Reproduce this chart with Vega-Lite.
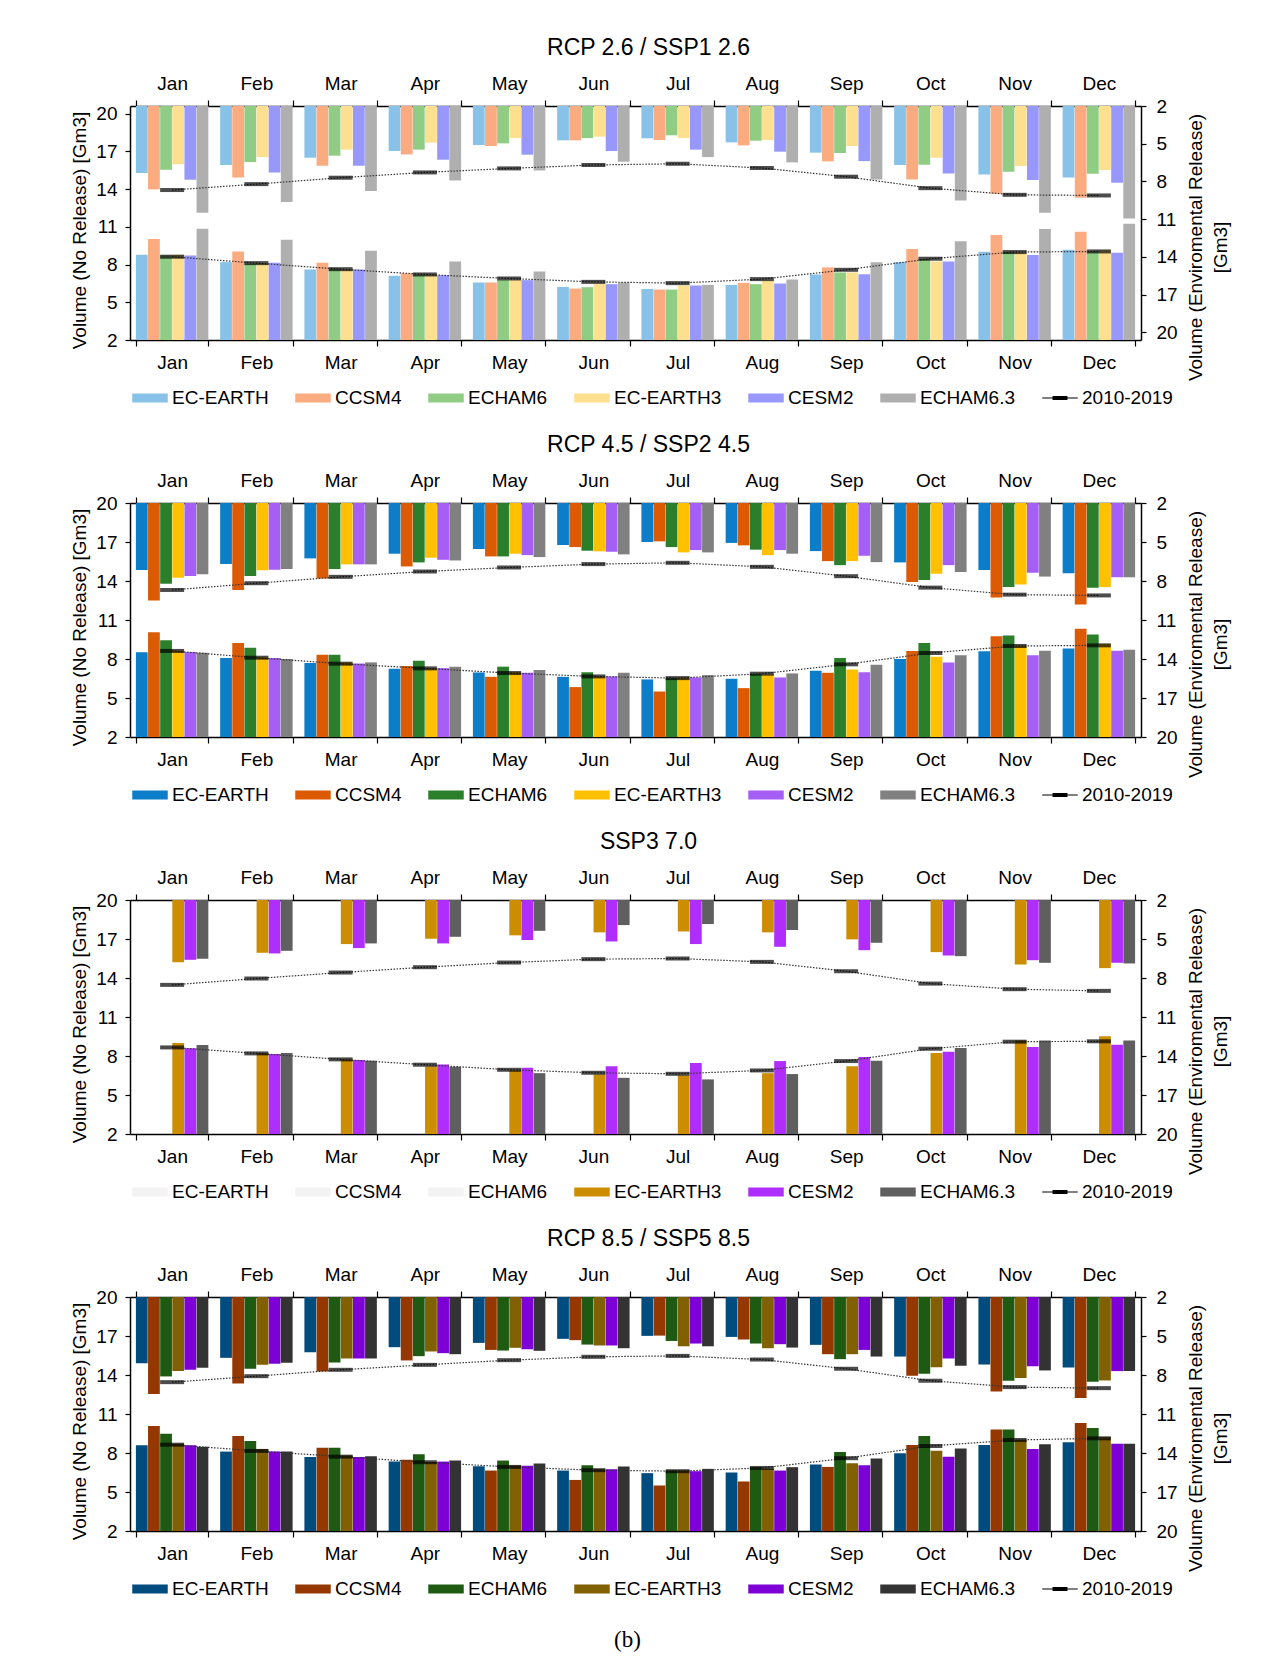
{
  "$schema": "https://vega.github.io/schema/vega-lite/v6.json",
  "padding": {"left": 70, "top": 37, "right": 30, "bottom": 5},
  "spacing": 26,
  "title": {"text": "(b)", "orient": "bottom", "anchor": "middle", "dx": -8, "font": "Liberation Serif", "fontSize": 23, "fontWeight": "normal", "color": "black", "offset": 30},
  "datasets": {
    "bars": [
      {"p":1,"m":"Jan","s":"EC-EARTH","nr":8.78,"er":7.33},{"p":1,"m":"Jan","s":"CCSM4","nr":10.03,"er":8.63},{"p":1,"m":"Jan","s":"ECHAM6","nr":8.72,"er":7.07},{"p":1,"m":"Jan","s":"EC-EARTH3","nr":8.78,"er":6.64},{"p":1,"m":"Jan","s":"CESM2","nr":8.72,"er":7.86},{"p":1,"m":"Jan","s":"ECHAM6.3","nr":10.85,"er":10.49},
      {"p":1,"m":"Feb","s":"EC-EARTH","nr":8.19,"er":6.69},{"p":1,"m":"Feb","s":"CCSM4","nr":9.04,"er":7.68},{"p":1,"m":"Feb","s":"ECHAM6","nr":8.09,"er":6.46},{"p":1,"m":"Feb","s":"EC-EARTH3","nr":8.11,"er":6.06},{"p":1,"m":"Feb","s":"CESM2","nr":8.14,"er":7.28},{"p":1,"m":"Feb","s":"ECHAM6.3","nr":9.97,"er":9.64},
      {"p":1,"m":"Mar","s":"EC-EARTH","nr":7.61,"er":6.11},{"p":1,"m":"Mar","s":"CCSM4","nr":8.14,"er":6.75},{"p":1,"m":"Mar","s":"ECHAM6","nr":7.66,"er":5.95},{"p":1,"m":"Mar","s":"EC-EARTH3","nr":7.63,"er":5.47},{"p":1,"m":"Mar","s":"CESM2","nr":7.61,"er":6.75},{"p":1,"m":"Mar","s":"ECHAM6.3","nr":9.10,"er":8.76},
      {"p":1,"m":"Apr","s":"EC-EARTH","nr":7.10,"er":5.58},{"p":1,"m":"Apr","s":"CCSM4","nr":7.31,"er":5.85},{"p":1,"m":"Apr","s":"ECHAM6","nr":7.18,"er":5.47},{"p":1,"m":"Apr","s":"EC-EARTH3","nr":7.21,"er":4.92},{"p":1,"m":"Apr","s":"CESM2","nr":7.15,"er":6.27},{"p":1,"m":"Apr","s":"ECHAM6.3","nr":8.24,"er":7.92},
      {"p":1,"m":"May","s":"EC-EARTH","nr":6.57,"er":5.10},{"p":1,"m":"May","s":"CCSM4","nr":6.57,"er":5.18},{"p":1,"m":"May","s":"ECHAM6","nr":6.76,"er":4.97},{"p":1,"m":"May","s":"EC-EARTH3","nr":6.76,"er":4.55},{"p":1,"m":"May","s":"CESM2","nr":6.76,"er":5.87},{"p":1,"m":"May","s":"ECHAM6.3","nr":7.45,"er":7.12},
      {"p":1,"m":"Jun","s":"EC-EARTH","nr":6.22,"er":4.73},{"p":1,"m":"Jun","s":"CCSM4","nr":6.09,"er":4.73},{"p":1,"m":"Jun","s":"ECHAM6","nr":6.20,"er":4.55},{"p":1,"m":"Jun","s":"EC-EARTH3","nr":6.49,"er":4.44},{"p":1,"m":"Jun","s":"CESM2","nr":6.44,"er":5.58},{"p":1,"m":"Jun","s":"ECHAM6.3","nr":6.57,"er":6.43},
      {"p":1,"m":"Jul","s":"EC-EARTH","nr":6.06,"er":4.57},{"p":1,"m":"Jul","s":"CCSM4","nr":6.01,"er":4.70},{"p":1,"m":"Jul","s":"ECHAM6","nr":6.01,"er":4.33},{"p":1,"m":"Jul","s":"EC-EARTH3","nr":6.33,"er":4.55},{"p":1,"m":"Jul","s":"CESM2","nr":6.33,"er":5.47},{"p":1,"m":"Jul","s":"ECHAM6.3","nr":6.38,"er":6.06},
      {"p":1,"m":"Aug","s":"EC-EARTH","nr":6.38,"er":4.89},{"p":1,"m":"Aug","s":"CCSM4","nr":6.54,"er":5.13},{"p":1,"m":"Aug","s":"ECHAM6","nr":6.44,"er":4.76},{"p":1,"m":"Aug","s":"EC-EARTH3","nr":6.70,"er":4.71},{"p":1,"m":"Aug","s":"CESM2","nr":6.49,"er":5.63},{"p":1,"m":"Aug","s":"ECHAM6.3","nr":6.81,"er":6.48},
      {"p":1,"m":"Sep","s":"EC-EARTH","nr":7.21,"er":5.71},{"p":1,"m":"Sep","s":"CCSM4","nr":7.77,"er":6.40},{"p":1,"m":"Sep","s":"ECHAM6","nr":7.37,"er":5.74},{"p":1,"m":"Sep","s":"EC-EARTH3","nr":7.37,"er":5.18},{"p":1,"m":"Sep","s":"CESM2","nr":7.23,"er":6.38},{"p":1,"m":"Sep","s":"ECHAM6.3","nr":8.19,"er":7.84},
      {"p":1,"m":"Oct","s":"EC-EARTH","nr":8.19,"er":6.69},{"p":1,"m":"Oct","s":"CCSM4","nr":9.23,"er":7.84},{"p":1,"m":"Oct","s":"ECHAM6","nr":8.43,"er":6.67},{"p":1,"m":"Oct","s":"EC-EARTH3","nr":8.24,"er":6.11},{"p":1,"m":"Oct","s":"CESM2","nr":8.24,"er":7.36},{"p":1,"m":"Oct","s":"ECHAM6.3","nr":9.84,"er":9.51},
      {"p":1,"m":"Nov","s":"EC-EARTH","nr":9.02,"er":7.44},{"p":1,"m":"Nov","s":"CCSM4","nr":10.35,"er":8.98},{"p":1,"m":"Nov","s":"ECHAM6","nr":9.02,"er":7.23},{"p":1,"m":"Nov","s":"EC-EARTH3","nr":8.96,"er":6.77},{"p":1,"m":"Nov","s":"CESM2","nr":8.75,"er":7.89},{"p":1,"m":"Nov","s":"ECHAM6.3","nr":10.82,"er":10.49},
      {"p":1,"m":"Dec","s":"EC-EARTH","nr":9.18,"er":7.68},{"p":1,"m":"Dec","s":"CCSM4","nr":10.61,"er":9.29},{"p":1,"m":"Dec","s":"ECHAM6","nr":9.04,"er":7.38},{"p":1,"m":"Dec","s":"EC-EARTH3","nr":9.15,"er":7.09},{"p":1,"m":"Dec","s":"CESM2","nr":8.94,"er":8.10},{"p":1,"m":"Dec","s":"ECHAM6.3","nr":11.25,"er":10.94},

      {"p":2,"m":"Jan","s":"EC-EARTH","nr":8.51,"er":7.15},{"p":2,"m":"Jan","s":"CCSM4","nr":10.06,"er":9.50},{"p":2,"m":"Jan","s":"ECHAM6","nr":9.44,"er":8.21},{"p":2,"m":"Jan","s":"EC-EARTH3","nr":8.64,"er":7.75},{"p":2,"m":"Jan","s":"CESM2","nr":8.54,"er":7.62},{"p":2,"m":"Jan","s":"ECHAM6.3","nr":8.49,"er":7.49},
      {"p":2,"m":"Feb","s":"EC-EARTH","nr":8.08,"er":6.69},{"p":2,"m":"Feb","s":"CCSM4","nr":9.24,"er":8.69},{"p":2,"m":"Feb","s":"ECHAM6","nr":8.87,"er":7.62},{"p":2,"m":"Feb","s":"EC-EARTH3","nr":8.13,"er":7.18},{"p":2,"m":"Feb","s":"CESM2","nr":8.08,"er":7.13},{"p":2,"m":"Feb","s":"ECHAM6.3","nr":8.00,"er":7.08},
      {"p":2,"m":"Mar","s":"EC-EARTH","nr":7.69,"er":6.26},{"p":2,"m":"Mar","s":"CCSM4","nr":8.33,"er":7.81},{"p":2,"m":"Mar","s":"ECHAM6","nr":8.33,"er":7.08},{"p":2,"m":"Mar","s":"EC-EARTH3","nr":7.74,"er":6.72},{"p":2,"m":"Mar","s":"CESM2","nr":7.66,"er":6.72},{"p":2,"m":"Mar","s":"ECHAM6.3","nr":7.74,"er":6.72},
      {"p":2,"m":"Apr","s":"EC-EARTH","nr":7.25,"er":5.90},{"p":2,"m":"Apr","s":"CCSM4","nr":7.46,"er":6.88},{"p":2,"m":"Apr","s":"ECHAM6","nr":7.87,"er":6.57},{"p":2,"m":"Apr","s":"EC-EARTH3","nr":7.30,"er":6.21},{"p":2,"m":"Apr","s":"CESM2","nr":7.30,"er":6.37},{"p":2,"m":"Apr","s":"ECHAM6.3","nr":7.41,"er":6.42},
      {"p":2,"m":"May","s":"EC-EARTH","nr":6.97,"er":5.54},{"p":2,"m":"May","s":"CCSM4","nr":6.63,"er":6.11},{"p":2,"m":"May","s":"ECHAM6","nr":7.41,"er":6.11},{"p":2,"m":"May","s":"EC-EARTH3","nr":6.99,"er":5.90},{"p":2,"m":"May","s":"CESM2","nr":6.94,"er":6.01},{"p":2,"m":"May","s":"ECHAM6.3","nr":7.15,"er":6.16},
      {"p":2,"m":"Jun","s":"EC-EARTH","nr":6.63,"er":5.23},{"p":2,"m":"Jun","s":"CCSM4","nr":5.84,"er":5.39},{"p":2,"m":"Jun","s":"ECHAM6","nr":6.99,"er":5.67},{"p":2,"m":"Jun","s":"EC-EARTH3","nr":6.66,"er":5.72},{"p":2,"m":"Jun","s":"CESM2","nr":6.66,"er":5.75},{"p":2,"m":"Jun","s":"ECHAM6.3","nr":6.94,"er":5.95},
      {"p":2,"m":"Jul","s":"EC-EARTH","nr":6.43,"er":5.00},{"p":2,"m":"Jul","s":"CCSM4","nr":5.50,"er":4.95},{"p":2,"m":"Jul","s":"ECHAM6","nr":6.53,"er":5.39},{"p":2,"m":"Jul","s":"EC-EARTH3","nr":6.53,"er":5.80},{"p":2,"m":"Jul","s":"CESM2","nr":6.58,"er":5.62},{"p":2,"m":"Jul","s":"ECHAM6.3","nr":6.76,"er":5.80},
      {"p":2,"m":"Aug","s":"EC-EARTH","nr":6.48,"er":5.07},{"p":2,"m":"Aug","s":"CCSM4","nr":5.76,"er":5.26},{"p":2,"m":"Aug","s":"ECHAM6","nr":6.84,"er":5.59},{"p":2,"m":"Aug","s":"EC-EARTH3","nr":6.79,"er":6.01},{"p":2,"m":"Aug","s":"CESM2","nr":6.58,"er":5.62},{"p":2,"m":"Aug","s":"ECHAM6.3","nr":6.89,"er":5.90},
      {"p":2,"m":"Sep","s":"EC-EARTH","nr":7.10,"er":5.70},{"p":2,"m":"Sep","s":"CCSM4","nr":6.94,"er":6.47},{"p":2,"m":"Sep","s":"ECHAM6","nr":8.08,"er":6.78},{"p":2,"m":"Sep","s":"EC-EARTH3","nr":7.20,"er":6.47},{"p":2,"m":"Sep","s":"CESM2","nr":6.99,"er":6.06},{"p":2,"m":"Sep","s":"ECHAM6.3","nr":7.56,"er":6.55},
      {"p":2,"m":"Oct","s":"EC-EARTH","nr":8.00,"er":6.57},{"p":2,"m":"Oct","s":"CCSM4","nr":8.62,"er":8.07},{"p":2,"m":"Oct","s":"ECHAM6","nr":9.24,"er":7.92},{"p":2,"m":"Oct","s":"EC-EARTH3","nr":8.18,"er":7.45},{"p":2,"m":"Oct","s":"CESM2","nr":7.74,"er":6.78},{"p":2,"m":"Oct","s":"ECHAM6.3","nr":8.28,"er":7.30},
      {"p":2,"m":"Nov","s":"EC-EARTH","nr":8.59,"er":7.15},{"p":2,"m":"Nov","s":"CCSM4","nr":9.75,"er":9.27},{"p":2,"m":"Nov","s":"ECHAM6","nr":9.80,"er":8.47},{"p":2,"m":"Nov","s":"EC-EARTH3","nr":9.00,"er":8.26},{"p":2,"m":"Nov","s":"CESM2","nr":8.28,"er":7.37},{"p":2,"m":"Nov","s":"ECHAM6.3","nr":8.64,"er":7.66},
      {"p":2,"m":"Dec","s":"EC-EARTH","nr":8.80,"er":7.41},{"p":2,"m":"Dec","s":"CCSM4","nr":10.32,"er":9.81},{"p":2,"m":"Dec","s":"ECHAM6","nr":9.88,"er":8.52},{"p":2,"m":"Dec","s":"EC-EARTH3","nr":9.16,"er":8.47},{"p":2,"m":"Dec","s":"CESM2","nr":8.64,"er":7.71},{"p":2,"m":"Dec","s":"ECHAM6.3","nr":8.72,"er":7.71},

      {"p":3,"m":"Jan","s":"EC-EARTH3","nr":9.00,"er":6.78},{"p":3,"m":"Jan","s":"CESM2","nr":8.59,"er":6.60},{"p":3,"m":"Jan","s":"ECHAM6.3","nr":8.84,"er":6.52},
      {"p":3,"m":"Feb","s":"EC-EARTH3","nr":8.23,"er":6.06},{"p":3,"m":"Feb","s":"CESM2","nr":8.15,"er":6.11},{"p":3,"m":"Feb","s":"ECHAM6.3","nr":8.23,"er":5.91},
      {"p":3,"m":"Mar","s":"EC-EARTH3","nr":7.74,"er":5.39},{"p":3,"m":"Mar","s":"CESM2","nr":7.69,"er":5.70},{"p":3,"m":"Mar","s":"ECHAM6.3","nr":7.64,"er":5.34},
      {"p":3,"m":"Apr","s":"EC-EARTH3","nr":7.20,"er":4.98},{"p":3,"m":"Apr","s":"CESM2","nr":7.35,"er":5.34},{"p":3,"m":"Apr","s":"ECHAM6.3","nr":7.17,"er":4.83},
      {"p":3,"m":"May","s":"EC-EARTH3","nr":6.89,"er":4.72},{"p":3,"m":"May","s":"CESM2","nr":7.10,"er":5.08},{"p":3,"m":"May","s":"ECHAM6.3","nr":6.68,"er":4.37},
      {"p":3,"m":"Jun","s":"EC-EARTH3","nr":6.58,"er":4.49},{"p":3,"m":"Jun","s":"CESM2","nr":7.22,"er":5.19},{"p":3,"m":"Jun","s":"ECHAM6.3","nr":6.32,"er":3.93},
      {"p":3,"m":"Jul","s":"EC-EARTH3","nr":6.50,"er":4.42},{"p":3,"m":"Jul","s":"CESM2","nr":7.46,"er":5.39},{"p":3,"m":"Jul","s":"ECHAM6.3","nr":6.20,"er":3.85},
      {"p":3,"m":"Aug","s":"EC-EARTH3","nr":6.68,"er":4.49},{"p":3,"m":"Aug","s":"CESM2","nr":7.61,"er":5.60},{"p":3,"m":"Aug","s":"ECHAM6.3","nr":6.61,"er":4.31},
      {"p":3,"m":"Sep","s":"EC-EARTH3","nr":7.22,"er":5.03},{"p":3,"m":"Sep","s":"CESM2","nr":7.92,"er":5.86},{"p":3,"m":"Sep","s":"ECHAM6.3","nr":7.64,"er":5.29},
      {"p":3,"m":"Oct","s":"EC-EARTH3","nr":8.23,"er":6.01},{"p":3,"m":"Oct","s":"CESM2","nr":8.33,"er":6.27},{"p":3,"m":"Oct","s":"ECHAM6.3","nr":8.61,"er":6.32},
      {"p":3,"m":"Nov","s":"EC-EARTH3","nr":9.20,"er":6.96},{"p":3,"m":"Nov","s":"CESM2","nr":8.69,"er":6.63},{"p":3,"m":"Nov","s":"ECHAM6.3","nr":9.20,"er":6.83},
      {"p":3,"m":"Dec","s":"EC-EARTH3","nr":9.51,"er":7.24},{"p":3,"m":"Dec","s":"CESM2","nr":8.87,"er":6.83},{"p":3,"m":"Dec","s":"ECHAM6.3","nr":9.20,"er":6.88},

      {"p":4,"m":"Jan","s":"EC-EARTH","nr":8.59,"er":7.09},{"p":4,"m":"Jan","s":"CCSM4","nr":10.08,"er":9.47},{"p":4,"m":"Jan","s":"ECHAM6","nr":9.49,"er":8.11},{"p":4,"m":"Jan","s":"EC-EARTH3","nr":8.72,"er":7.70},{"p":4,"m":"Jan","s":"CESM2","nr":8.59,"er":7.60},{"p":4,"m":"Jan","s":"ECHAM6.3","nr":8.49,"er":7.45},
      {"p":4,"m":"Feb","s":"EC-EARTH","nr":8.11,"er":6.68},{"p":4,"m":"Feb","s":"CCSM4","nr":9.31,"er":8.65},{"p":4,"m":"Feb","s":"ECHAM6","nr":8.93,"er":7.52},{"p":4,"m":"Feb","s":"EC-EARTH3","nr":8.31,"er":7.22},{"p":4,"m":"Feb","s":"CESM2","nr":8.11,"er":7.14},{"p":4,"m":"Feb","s":"ECHAM6.3","nr":8.11,"er":7.06},
      {"p":4,"m":"Mar","s":"EC-EARTH","nr":7.70,"er":6.25},{"p":4,"m":"Mar","s":"CCSM4","nr":8.41,"er":7.73},{"p":4,"m":"Mar","s":"ECHAM6","nr":8.41,"er":7.04},{"p":4,"m":"Mar","s":"EC-EARTH3","nr":7.80,"er":6.73},{"p":4,"m":"Mar","s":"CESM2","nr":7.70,"er":6.73},{"p":4,"m":"Mar","s":"ECHAM6.3","nr":7.75,"er":6.73},
      {"p":4,"m":"Apr","s":"EC-EARTH","nr":7.34,"er":5.86},{"p":4,"m":"Apr","s":"CCSM4","nr":7.49,"er":6.88},{"p":4,"m":"Apr","s":"ECHAM6","nr":7.90,"er":6.55},{"p":4,"m":"Apr","s":"EC-EARTH3","nr":7.31,"er":6.19},{"p":4,"m":"Apr","s":"CESM2","nr":7.34,"er":6.32},{"p":4,"m":"Apr","s":"ECHAM6.3","nr":7.42,"er":6.40},
      {"p":4,"m":"May","s":"EC-EARTH","nr":6.98,"er":5.53},{"p":4,"m":"May","s":"CCSM4","nr":6.65,"er":6.07},{"p":4,"m":"May","s":"ECHAM6","nr":7.42,"er":6.12},{"p":4,"m":"May","s":"EC-EARTH3","nr":7.03,"er":5.91},{"p":4,"m":"May","s":"CESM2","nr":7.01,"er":6.02},{"p":4,"m":"May","s":"ECHAM6.3","nr":7.19,"er":6.14},
      {"p":4,"m":"Jun","s":"EC-EARTH","nr":6.65,"er":5.22},{"p":4,"m":"Jun","s":"CCSM4","nr":5.93,"er":5.32},{"p":4,"m":"Jun","s":"ECHAM6","nr":7.06,"er":5.66},{"p":4,"m":"Jun","s":"EC-EARTH3","nr":6.75,"er":5.73},{"p":4,"m":"Jun","s":"CESM2","nr":6.75,"er":5.73},{"p":4,"m":"Jun","s":"ECHAM6.3","nr":6.96,"er":5.94},
      {"p":4,"m":"Jul","s":"EC-EARTH","nr":6.45,"er":4.99},{"p":4,"m":"Jul","s":"CCSM4","nr":5.50,"er":4.97},{"p":4,"m":"Jul","s":"ECHAM6","nr":6.65,"er":5.38},{"p":4,"m":"Jul","s":"EC-EARTH3","nr":6.65,"er":5.79},{"p":4,"m":"Jul","s":"CESM2","nr":6.60,"er":5.58},{"p":4,"m":"Jul","s":"ECHAM6.3","nr":6.78,"er":5.79},
      {"p":4,"m":"Aug","s":"EC-EARTH","nr":6.50,"er":5.07},{"p":4,"m":"Aug","s":"CCSM4","nr":5.81,"er":5.27},{"p":4,"m":"Aug","s":"ECHAM6","nr":6.91,"er":5.58},{"p":4,"m":"Aug","s":"EC-EARTH3","nr":6.80,"er":5.94},{"p":4,"m":"Aug","s":"CESM2","nr":6.65,"er":5.63},{"p":4,"m":"Aug","s":"ECHAM6.3","nr":6.91,"er":5.89},
      {"p":4,"m":"Sep","s":"EC-EARTH","nr":7.11,"er":5.68},{"p":4,"m":"Sep","s":"CCSM4","nr":6.93,"er":6.40},{"p":4,"m":"Sep","s":"ECHAM6","nr":8.08,"er":6.78},{"p":4,"m":"Sep","s":"EC-EARTH3","nr":7.21,"er":6.40},{"p":4,"m":"Sep","s":"CESM2","nr":7.06,"er":6.07},{"p":4,"m":"Sep","s":"ECHAM6.3","nr":7.57,"er":6.58},
      {"p":4,"m":"Oct","s":"EC-EARTH","nr":7.98,"er":6.58},{"p":4,"m":"Oct","s":"CCSM4","nr":8.62,"er":8.06},{"p":4,"m":"Oct","s":"ECHAM6","nr":9.31,"er":7.91},{"p":4,"m":"Oct","s":"EC-EARTH3","nr":8.18,"er":7.40},{"p":4,"m":"Oct","s":"CESM2","nr":7.72,"er":6.73},{"p":4,"m":"Oct","s":"ECHAM6.3","nr":8.34,"er":7.29},
      {"p":4,"m":"Nov","s":"EC-EARTH","nr":8.62,"er":7.19},{"p":4,"m":"Nov","s":"CCSM4","nr":9.80,"er":9.26},{"p":4,"m":"Nov","s":"ECHAM6","nr":9.80,"er":8.44},{"p":4,"m":"Nov","s":"EC-EARTH3","nr":9.00,"er":8.24},{"p":4,"m":"Nov","s":"CESM2","nr":8.31,"er":7.32},{"p":4,"m":"Nov","s":"ECHAM6.3","nr":8.67,"er":7.65},
      {"p":4,"m":"Dec","s":"EC-EARTH","nr":8.82,"er":7.42},{"p":4,"m":"Dec","s":"CCSM4","nr":10.31,"er":9.77},{"p":4,"m":"Dec","s":"ECHAM6","nr":9.92,"er":8.52},{"p":4,"m":"Dec","s":"EC-EARTH3","nr":9.21,"er":8.42},{"p":4,"m":"Dec","s":"CESM2","nr":8.72,"er":7.70},{"p":4,"m":"Dec","s":"ECHAM6.3","nr":8.72,"er":7.70}
    ],
    "lines": [
      {"p":1,"m":"Jan","nr":8.62,"er":8.68},{"p":1,"m":"Feb","nr":8.11,"er":8.21},{"p":1,"m":"Mar","nr":7.63,"er":7.70},{"p":1,"m":"Apr","nr":7.21,"er":7.28},{"p":1,"m":"May","nr":6.89,"er":6.96},{"p":1,"m":"Jun","nr":6.62,"er":6.69},{"p":1,"m":"Jul","nr":6.52,"er":6.59},{"p":1,"m":"Aug","nr":6.84,"er":6.93},{"p":1,"m":"Sep","nr":7.58,"er":7.62},{"p":1,"m":"Oct","nr":8.46,"er":8.53},{"p":1,"m":"Nov","nr":8.99,"er":9.06},{"p":1,"m":"Dec","nr":9.04,"er":9.11},
      {"p":2,"m":"Jan","nr":8.62,"er":8.69},{"p":2,"m":"Feb","nr":8.10,"er":8.17},{"p":2,"m":"Mar","nr":7.64,"er":7.68},{"p":2,"m":"Apr","nr":7.28,"er":7.27},{"p":2,"m":"May","nr":6.92,"er":6.96},{"p":2,"m":"Jun","nr":6.66,"er":6.70},{"p":2,"m":"Jul","nr":6.53,"er":6.60},{"p":2,"m":"Aug","nr":6.87,"er":6.91},{"p":2,"m":"Sep","nr":7.59,"er":7.63},{"p":2,"m":"Oct","nr":8.46,"er":8.51},{"p":2,"m":"Nov","nr":9.00,"er":9.05},{"p":2,"m":"Dec","nr":9.05,"er":9.11},
      {"p":3,"m":"Jan","nr":8.66,"er":8.53},{"p":3,"m":"Feb","nr":8.20,"er":8.04},{"p":3,"m":"Mar","nr":7.74,"er":7.58},{"p":3,"m":"Apr","nr":7.33,"er":7.17},{"p":3,"m":"May","nr":6.94,"er":6.81},{"p":3,"m":"Jun","nr":6.71,"er":6.55},{"p":3,"m":"Jul","nr":6.63,"er":6.50},{"p":3,"m":"Aug","nr":6.89,"er":6.76},{"p":3,"m":"Sep","nr":7.61,"er":7.48},{"p":3,"m":"Oct","nr":8.56,"er":8.43},{"p":3,"m":"Nov","nr":9.10,"er":8.86},{"p":3,"m":"Dec","nr":9.13,"er":8.99},
      {"p":4,"m":"Jan","nr":8.64,"er":8.55},{"p":4,"m":"Feb","nr":8.16,"er":8.09},{"p":4,"m":"Mar","nr":7.72,"er":7.60},{"p":4,"m":"Apr","nr":7.29,"er":7.22},{"p":4,"m":"May","nr":6.93,"er":6.86},{"p":4,"m":"Jun","nr":6.68,"er":6.60},{"p":4,"m":"Jul","nr":6.60,"er":6.53},{"p":4,"m":"Aug","nr":6.85,"er":6.81},{"p":4,"m":"Sep","nr":7.60,"er":7.52},{"p":4,"m":"Oct","nr":8.54,"er":8.44},{"p":4,"m":"Nov","nr":9.00,"er":8.93},{"p":4,"m":"Dec","nr":9.13,"er":9.01}
    ]
  },
  "resolve": {"scale": {"color": "independent", "x": "independent", "y": "independent", "xOffset": "independent"}},
  "vconcat": [
    {
      "width": 1011, "height": 234,
      "title": {"text": "RCP 2.6 / SSP1 2.6"},
      "resolve": {"scale": {"y": "independent"}, "axis": {"x": "independent", "y": "independent"}},
      "layer": [
        {"data": {"name": "bars"}, "transform": [{"filter": "datum.p == 1"}], "mark": "bar",
         "encoding": {
           "x": {"field": "m", "type": "nominal", "sort": null, "scale": {"domain": ["Jan","Feb","Mar","Apr","May","Jun","Jul","Aug","Sep","Oct","Nov","Dec"], "paddingInner": 0.14, "paddingOuter": 0.07}, "axis": {"orient": "bottom", "title": null, "labelAngle": 0, "tickBand": "extent", "tickSize": 6, "labelPadding": 7}},
           "xOffset": {"field": "s", "type": "nominal", "scale": {"domain": ["EC-EARTH","CCSM4","ECHAM6","EC-EARTH3","CESM2","ECHAM6.3"], "paddingInner": 0.03}},
           "y": {"field": "nr", "type": "quantitative", "scale": {"domain": [2, 20.6], "zero": false, "nice": false}, "axis": {"orient": "left", "values": [2,5,8,11,14,17,20], "title": "Volume (No Release) [Gm3]", "titlePadding": 6, "titleY": 124, "tickSize": 5, "labelPadding": 8}},
           "y2": {"datum": 2},
           "color": {"field": "s", "type": "nominal", "scale": {"domain": ["EC-EARTH","CCSM4","ECHAM6","EC-EARTH3","CESM2","ECHAM6.3","2010-2019"], "range": ["#88C2E8","#FBAB80","#90CC84","#FDE08F","#9898FC","#AFAFAF","#000000"]}, "legend": {"title": null, "encode": {"symbols": {"update": {"shape": {"signal": "datum.value === '2010-2019' ? 'M-1,-0.03H1V0.03H-1Z M-0.42,-0.11H0.42V0.11H-0.42Z' : 'M-1,-0.254H1V0.254H-1Z'"}}}}}}
         }},
        {"data": {"name": "bars"}, "transform": [{"filter": "datum.p == 1"}], "mark": "bar",
         "encoding": {
           "x": {"field": "m", "type": "nominal", "sort": null, "scale": {"domain": ["Jan","Feb","Mar","Apr","May","Jun","Jul","Aug","Sep","Oct","Nov","Dec"], "paddingInner": 0.14, "paddingOuter": 0.07}, "axis": {"orient": "top", "title": null, "labelAngle": 0, "tickBand": "extent", "tickSize": 6, "labelPadding": 7}},
           "xOffset": {"field": "s", "type": "nominal", "scale": {"domain": ["EC-EARTH","CCSM4","ECHAM6","EC-EARTH3","CESM2","ECHAM6.3"], "paddingInner": 0.03}},
           "y": {"field": "er", "type": "quantitative", "scale": {"domain": [2, 20.6], "reverse": true, "zero": false, "nice": false}, "axis": {"orient": "right", "values": [2,5,8,11,14,17,20], "title": ["Volume (Enviromental Release)", "[Gm3]"], "titleAngle": 270, "titleBaseline": "top", "titlePadding": -16, "titleLineHeight": 25, "titleY": 141, "tickSize": 5, "labelPadding": 10}},
           "y2": {"datum": 2},
           "color": {"field": "s", "type": "nominal"}
         }},
        {"data": {"name": "lines"}, "transform": [{"filter": "datum.p == 1"}], "mark": {"type": "line", "color": "#333333", "strokeWidth": 1.2, "strokeDash": [1.5, 1.5]},
         "encoding": {
           "x": {"field": "m", "type": "nominal", "sort": null, "axis": null},
           "y": {"field": "nr", "type": "quantitative", "scale": {"domain": [2, 20.6], "zero": false, "nice": false}, "axis": null}
         }},
        {"data": {"name": "lines"}, "transform": [{"filter": "datum.p == 1"}], "mark": {"type": "tick", "color": "black", "size": 24, "thickness": 4, "orient": "horizontal"},
         "encoding": {
           "x": {"field": "m", "type": "nominal", "sort": null, "axis": null},
           "y": {"field": "nr", "type": "quantitative", "scale": {"domain": [2, 20.6], "zero": false, "nice": false}, "axis": null}
         }},
        {"data": {"name": "lines"}, "transform": [{"filter": "datum.p == 1"}], "mark": {"type": "line", "color": "#333333", "strokeWidth": 1.2, "strokeDash": [1.5, 1.5]},
         "encoding": {
           "x": {"field": "m", "type": "nominal", "sort": null, "axis": null},
           "y": {"field": "er", "type": "quantitative", "scale": {"domain": [2, 20.6], "reverse": true, "zero": false, "nice": false}, "axis": null}
         }},
        {"data": {"name": "lines"}, "transform": [{"filter": "datum.p == 1"}], "mark": {"type": "tick", "color": "black", "size": 24, "thickness": 4, "orient": "horizontal"},
         "encoding": {
           "x": {"field": "m", "type": "nominal", "sort": null, "axis": null},
           "y": {"field": "er", "type": "quantitative", "scale": {"domain": [2, 20.6], "reverse": true, "zero": false, "nice": false}, "axis": null}
         }}
      ]
    },
    {
      "width": 1011, "height": 234,
      "title": {"text": "RCP 4.5 / SSP2 4.5"},
      "resolve": {"scale": {"y": "independent"}, "axis": {"x": "independent", "y": "independent"}},
      "layer": [
        {"data": {"name": "bars"}, "transform": [{"filter": "datum.p == 2"}], "mark": "bar",
         "encoding": {
           "x": {"field": "m", "type": "nominal", "sort": null, "scale": {"domain": ["Jan","Feb","Mar","Apr","May","Jun","Jul","Aug","Sep","Oct","Nov","Dec"], "paddingInner": 0.14, "paddingOuter": 0.07}, "axis": {"orient": "bottom", "title": null, "labelAngle": 0, "tickBand": "extent", "tickSize": 6, "labelPadding": 7}},
           "xOffset": {"field": "s", "type": "nominal", "scale": {"domain": ["EC-EARTH","CCSM4","ECHAM6","EC-EARTH3","CESM2","ECHAM6.3"], "paddingInner": 0.03}},
           "y": {"field": "nr", "type": "quantitative", "scale": {"domain": [2, 20], "zero": false, "nice": false}, "axis": {"orient": "left", "values": [2,5,8,11,14,17,20], "title": "Volume (No Release) [Gm3]", "titlePadding": 6, "titleY": 124, "tickSize": 5, "labelPadding": 8}},
           "y2": {"datum": 2},
           "color": {"field": "s", "type": "nominal", "scale": {"domain": ["EC-EARTH","CCSM4","ECHAM6","EC-EARTH3","CESM2","ECHAM6.3","2010-2019"], "range": ["#0B7DC9","#DD5A05","#2B7F2B","#FFC000","#A65FF5","#808080","#000000"]}, "legend": {"title": null, "encode": {"symbols": {"update": {"shape": {"signal": "datum.value === '2010-2019' ? 'M-1,-0.03H1V0.03H-1Z M-0.42,-0.11H0.42V0.11H-0.42Z' : 'M-1,-0.254H1V0.254H-1Z'"}}}}}}
         }},
        {"data": {"name": "bars"}, "transform": [{"filter": "datum.p == 2"}], "mark": "bar",
         "encoding": {
           "x": {"field": "m", "type": "nominal", "sort": null, "scale": {"domain": ["Jan","Feb","Mar","Apr","May","Jun","Jul","Aug","Sep","Oct","Nov","Dec"], "paddingInner": 0.14, "paddingOuter": 0.07}, "axis": {"orient": "top", "title": null, "labelAngle": 0, "tickBand": "extent", "tickSize": 6, "labelPadding": 7}},
           "xOffset": {"field": "s", "type": "nominal", "scale": {"domain": ["EC-EARTH","CCSM4","ECHAM6","EC-EARTH3","CESM2","ECHAM6.3"], "paddingInner": 0.03}},
           "y": {"field": "er", "type": "quantitative", "scale": {"domain": [2, 20], "reverse": true, "zero": false, "nice": false}, "axis": {"orient": "right", "values": [2,5,8,11,14,17,20], "title": ["Volume (Enviromental Release)", "[Gm3]"], "titleAngle": 270, "titleBaseline": "top", "titlePadding": -16, "titleLineHeight": 25, "titleY": 141, "tickSize": 5, "labelPadding": 10}},
           "y2": {"datum": 2},
           "color": {"field": "s", "type": "nominal"}
         }},
        {"data": {"name": "lines"}, "transform": [{"filter": "datum.p == 2"}], "mark": {"type": "line", "color": "#333333", "strokeWidth": 1.2, "strokeDash": [1.5, 1.5]},
         "encoding": {
           "x": {"field": "m", "type": "nominal", "sort": null, "axis": null},
           "y": {"field": "nr", "type": "quantitative", "scale": {"domain": [2, 20], "zero": false, "nice": false}, "axis": null}
         }},
        {"data": {"name": "lines"}, "transform": [{"filter": "datum.p == 2"}], "mark": {"type": "tick", "color": "black", "size": 24, "thickness": 4, "orient": "horizontal"},
         "encoding": {
           "x": {"field": "m", "type": "nominal", "sort": null, "axis": null},
           "y": {"field": "nr", "type": "quantitative", "scale": {"domain": [2, 20], "zero": false, "nice": false}, "axis": null}
         }},
        {"data": {"name": "lines"}, "transform": [{"filter": "datum.p == 2"}], "mark": {"type": "line", "color": "#333333", "strokeWidth": 1.2, "strokeDash": [1.5, 1.5]},
         "encoding": {
           "x": {"field": "m", "type": "nominal", "sort": null, "axis": null},
           "y": {"field": "er", "type": "quantitative", "scale": {"domain": [2, 20], "reverse": true, "zero": false, "nice": false}, "axis": null}
         }},
        {"data": {"name": "lines"}, "transform": [{"filter": "datum.p == 2"}], "mark": {"type": "tick", "color": "black", "size": 24, "thickness": 4, "orient": "horizontal"},
         "encoding": {
           "x": {"field": "m", "type": "nominal", "sort": null, "axis": null},
           "y": {"field": "er", "type": "quantitative", "scale": {"domain": [2, 20], "reverse": true, "zero": false, "nice": false}, "axis": null}
         }}
      ]
    },
    {
      "width": 1011, "height": 234,
      "title": {"text": "SSP3 7.0"},
      "resolve": {"scale": {"y": "independent"}, "axis": {"x": "independent", "y": "independent"}},
      "layer": [
        {"data": {"name": "bars"}, "transform": [{"filter": "datum.p == 3"}], "mark": "bar",
         "encoding": {
           "x": {"field": "m", "type": "nominal", "sort": null, "scale": {"domain": ["Jan","Feb","Mar","Apr","May","Jun","Jul","Aug","Sep","Oct","Nov","Dec"], "paddingInner": 0.14, "paddingOuter": 0.07}, "axis": {"orient": "bottom", "title": null, "labelAngle": 0, "tickBand": "extent", "tickSize": 6, "labelPadding": 7}},
           "xOffset": {"field": "s", "type": "nominal", "scale": {"domain": ["EC-EARTH","CCSM4","ECHAM6","EC-EARTH3","CESM2","ECHAM6.3"], "paddingInner": 0.03}},
           "y": {"field": "nr", "type": "quantitative", "scale": {"domain": [2, 20], "zero": false, "nice": false}, "axis": {"orient": "left", "values": [2,5,8,11,14,17,20], "title": "Volume (No Release) [Gm3]", "titlePadding": 6, "titleY": 124, "tickSize": 5, "labelPadding": 8}},
           "y2": {"datum": 2},
           "color": {"field": "s", "type": "nominal", "scale": {"domain": ["EC-EARTH","CCSM4","ECHAM6","EC-EARTH3","CESM2","ECHAM6.3","2010-2019"], "range": ["#F3F3F3","#F3F3F3","#F3F3F3","#CC8E00","#B02EFC","#5F5F5F","#000000"]}, "legend": {"title": null, "encode": {"symbols": {"update": {"shape": {"signal": "datum.value === '2010-2019' ? 'M-1,-0.03H1V0.03H-1Z M-0.42,-0.11H0.42V0.11H-0.42Z' : 'M-1,-0.254H1V0.254H-1Z'"}}}}}}
         }},
        {"data": {"name": "bars"}, "transform": [{"filter": "datum.p == 3"}], "mark": "bar",
         "encoding": {
           "x": {"field": "m", "type": "nominal", "sort": null, "scale": {"domain": ["Jan","Feb","Mar","Apr","May","Jun","Jul","Aug","Sep","Oct","Nov","Dec"], "paddingInner": 0.14, "paddingOuter": 0.07}, "axis": {"orient": "top", "title": null, "labelAngle": 0, "tickBand": "extent", "tickSize": 6, "labelPadding": 7}},
           "xOffset": {"field": "s", "type": "nominal", "scale": {"domain": ["EC-EARTH","CCSM4","ECHAM6","EC-EARTH3","CESM2","ECHAM6.3"], "paddingInner": 0.03}},
           "y": {"field": "er", "type": "quantitative", "scale": {"domain": [2, 20], "reverse": true, "zero": false, "nice": false}, "axis": {"orient": "right", "values": [2,5,8,11,14,17,20], "title": ["Volume (Enviromental Release)", "[Gm3]"], "titleAngle": 270, "titleBaseline": "top", "titlePadding": -16, "titleLineHeight": 25, "titleY": 141, "tickSize": 5, "labelPadding": 10}},
           "y2": {"datum": 2},
           "color": {"field": "s", "type": "nominal"}
         }},
        {"data": {"name": "lines"}, "transform": [{"filter": "datum.p == 3"}], "mark": {"type": "line", "color": "#333333", "strokeWidth": 1.2, "strokeDash": [1.5, 1.5]},
         "encoding": {
           "x": {"field": "m", "type": "nominal", "sort": null, "axis": null},
           "y": {"field": "nr", "type": "quantitative", "scale": {"domain": [2, 20], "zero": false, "nice": false}, "axis": null}
         }},
        {"data": {"name": "lines"}, "transform": [{"filter": "datum.p == 3"}], "mark": {"type": "tick", "color": "black", "size": 24, "thickness": 4, "orient": "horizontal"},
         "encoding": {
           "x": {"field": "m", "type": "nominal", "sort": null, "axis": null},
           "y": {"field": "nr", "type": "quantitative", "scale": {"domain": [2, 20], "zero": false, "nice": false}, "axis": null}
         }},
        {"data": {"name": "lines"}, "transform": [{"filter": "datum.p == 3"}], "mark": {"type": "line", "color": "#333333", "strokeWidth": 1.2, "strokeDash": [1.5, 1.5]},
         "encoding": {
           "x": {"field": "m", "type": "nominal", "sort": null, "axis": null},
           "y": {"field": "er", "type": "quantitative", "scale": {"domain": [2, 20], "reverse": true, "zero": false, "nice": false}, "axis": null}
         }},
        {"data": {"name": "lines"}, "transform": [{"filter": "datum.p == 3"}], "mark": {"type": "tick", "color": "black", "size": 24, "thickness": 4, "orient": "horizontal"},
         "encoding": {
           "x": {"field": "m", "type": "nominal", "sort": null, "axis": null},
           "y": {"field": "er", "type": "quantitative", "scale": {"domain": [2, 20], "reverse": true, "zero": false, "nice": false}, "axis": null}
         }}
      ]
    },
    {
      "width": 1011, "height": 234,
      "title": {"text": "RCP 8.5 / SSP5 8.5"},
      "resolve": {"scale": {"y": "independent"}, "axis": {"x": "independent", "y": "independent"}},
      "layer": [
        {"data": {"name": "bars"}, "transform": [{"filter": "datum.p == 4"}], "mark": "bar",
         "encoding": {
           "x": {"field": "m", "type": "nominal", "sort": null, "scale": {"domain": ["Jan","Feb","Mar","Apr","May","Jun","Jul","Aug","Sep","Oct","Nov","Dec"], "paddingInner": 0.14, "paddingOuter": 0.07}, "axis": {"orient": "bottom", "title": null, "labelAngle": 0, "tickBand": "extent", "tickSize": 6, "labelPadding": 7}},
           "xOffset": {"field": "s", "type": "nominal", "scale": {"domain": ["EC-EARTH","CCSM4","ECHAM6","EC-EARTH3","CESM2","ECHAM6.3"], "paddingInner": 0.03}},
           "y": {"field": "nr", "type": "quantitative", "scale": {"domain": [2, 20], "zero": false, "nice": false}, "axis": {"orient": "left", "values": [2,5,8,11,14,17,20], "title": "Volume (No Release) [Gm3]", "titlePadding": 6, "titleY": 124, "tickSize": 5, "labelPadding": 8}},
           "y2": {"datum": 2},
           "color": {"field": "s", "type": "nominal", "scale": {"domain": ["EC-EARTH","CCSM4","ECHAM6","EC-EARTH3","CESM2","ECHAM6.3","2010-2019"], "range": ["#004C7F","#953800","#1E5A12","#806000","#7D00D6","#333333","#000000"]}, "legend": {"title": null, "encode": {"symbols": {"update": {"shape": {"signal": "datum.value === '2010-2019' ? 'M-1,-0.03H1V0.03H-1Z M-0.42,-0.11H0.42V0.11H-0.42Z' : 'M-1,-0.254H1V0.254H-1Z'"}}}}}}
         }},
        {"data": {"name": "bars"}, "transform": [{"filter": "datum.p == 4"}], "mark": "bar",
         "encoding": {
           "x": {"field": "m", "type": "nominal", "sort": null, "scale": {"domain": ["Jan","Feb","Mar","Apr","May","Jun","Jul","Aug","Sep","Oct","Nov","Dec"], "paddingInner": 0.14, "paddingOuter": 0.07}, "axis": {"orient": "top", "title": null, "labelAngle": 0, "tickBand": "extent", "tickSize": 6, "labelPadding": 7}},
           "xOffset": {"field": "s", "type": "nominal", "scale": {"domain": ["EC-EARTH","CCSM4","ECHAM6","EC-EARTH3","CESM2","ECHAM6.3"], "paddingInner": 0.03}},
           "y": {"field": "er", "type": "quantitative", "scale": {"domain": [2, 20], "reverse": true, "zero": false, "nice": false}, "axis": {"orient": "right", "values": [2,5,8,11,14,17,20], "title": ["Volume (Enviromental Release)", "[Gm3]"], "titleAngle": 270, "titleBaseline": "top", "titlePadding": -16, "titleLineHeight": 25, "titleY": 141, "tickSize": 5, "labelPadding": 10}},
           "y2": {"datum": 2},
           "color": {"field": "s", "type": "nominal"}
         }},
        {"data": {"name": "lines"}, "transform": [{"filter": "datum.p == 4"}], "mark": {"type": "line", "color": "#333333", "strokeWidth": 1.2, "strokeDash": [1.5, 1.5]},
         "encoding": {
           "x": {"field": "m", "type": "nominal", "sort": null, "axis": null},
           "y": {"field": "nr", "type": "quantitative", "scale": {"domain": [2, 20], "zero": false, "nice": false}, "axis": null}
         }},
        {"data": {"name": "lines"}, "transform": [{"filter": "datum.p == 4"}], "mark": {"type": "tick", "color": "black", "size": 24, "thickness": 4, "orient": "horizontal"},
         "encoding": {
           "x": {"field": "m", "type": "nominal", "sort": null, "axis": null},
           "y": {"field": "nr", "type": "quantitative", "scale": {"domain": [2, 20], "zero": false, "nice": false}, "axis": null}
         }},
        {"data": {"name": "lines"}, "transform": [{"filter": "datum.p == 4"}], "mark": {"type": "line", "color": "#333333", "strokeWidth": 1.2, "strokeDash": [1.5, 1.5]},
         "encoding": {
           "x": {"field": "m", "type": "nominal", "sort": null, "axis": null},
           "y": {"field": "er", "type": "quantitative", "scale": {"domain": [2, 20], "reverse": true, "zero": false, "nice": false}, "axis": null}
         }},
        {"data": {"name": "lines"}, "transform": [{"filter": "datum.p == 4"}], "mark": {"type": "tick", "color": "black", "size": 24, "thickness": 4, "orient": "horizontal"},
         "encoding": {
           "x": {"field": "m", "type": "nominal", "sort": null, "axis": null},
           "y": {"field": "er", "type": "quantitative", "scale": {"domain": [2, 20], "reverse": true, "zero": false, "nice": false}, "axis": null}
         }}
      ]
    }
  ],
  "config": {
    "font": "Liberation Sans",
    "view": {"stroke": null},
    "axis": {"labelFont": "Liberation Sans", "labelFontSize": 19, "labelColor": "black", "titleFont": "Liberation Sans", "titleFontSize": 19, "titleFontWeight": "normal", "titleColor": "black", "domainColor": "black", "domainWidth": 1.5, "tickColor": "black", "tickWidth": 1.2, "grid": false},
    "legend": {"orient": "none", "legendX": 2, "legendY": 274, "direction": "horizontal", "labelFont": "Liberation Sans", "labelFontSize": 19, "labelColor": "black", "symbolType": "M-1,-0.254H1V0.254H-1Z", "symbolSize": 1260, "symbolStrokeWidth": 0, "labelOffset": 4, "columnPadding": 26},
    "title": {"font": "Liberation Sans", "fontSize": 23, "fontWeight": "normal", "color": "black", "offset": 14, "frame": "group", "dx": 13}
  }
}
